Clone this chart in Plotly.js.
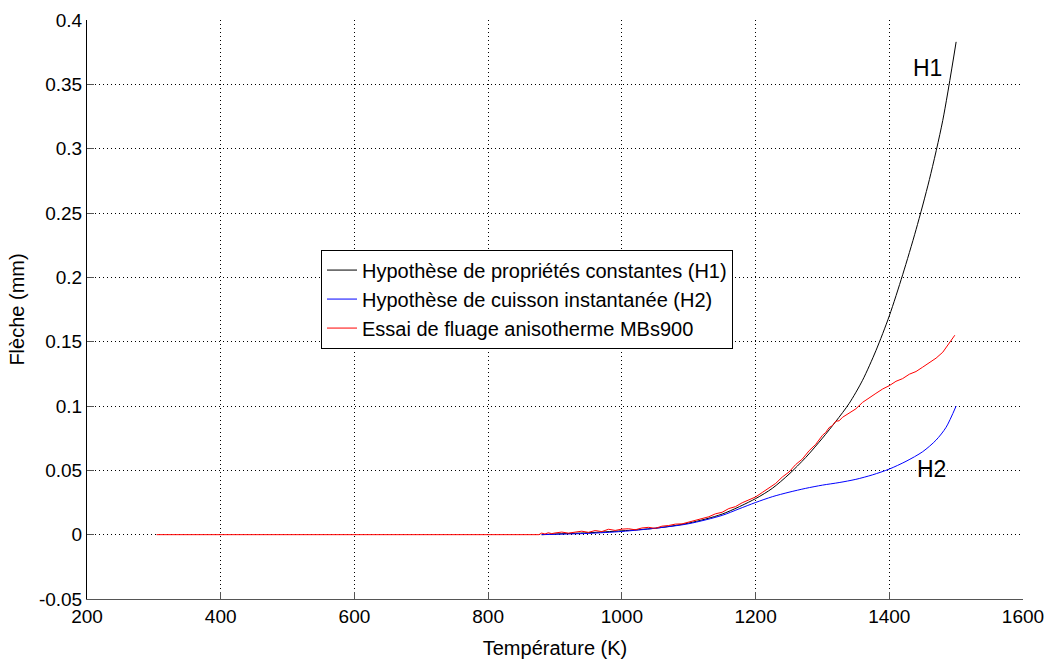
<!DOCTYPE html>
<html>
<head>
<meta charset="utf-8">
<script src="https://cdn.plot.ly/plotly-3.0.1.min.js"></script>
<style>html,body{margin:0;padding:0;background:#fff;}#chart{width:1049px;height:659px;}</style>
</head>
<body>
<div id="chart"></div>
<script>
// H1: constant properties hypothesis
const tempH1 = [880, 900, 950, 1000, 1050, 1100, 1150, 1200, 1225, 1250, 1275, 1300, 1320, 1340, 1360, 1380, 1400, 1420, 1440, 1460, 1480, 1500];
const flecheH1 = [0, 0.0005, 0.0015, 0.003, 0.005, 0.009, 0.016, 0.028, 0.036, 0.047, 0.060, 0.075, 0.088, 0.102, 0.120, 0.143, 0.170, 0.202, 0.237, 0.276, 0.322, 0.383];

// H2: instantaneous firing hypothesis
const tempH2 = [880, 900, 950, 1000, 1050, 1100, 1150, 1175, 1200, 1225, 1250, 1275, 1300, 1325, 1350, 1375, 1400, 1425, 1450, 1470, 1485, 1500];
const flecheH2 = [0, 0.0003, 0.001, 0.0025, 0.005, 0.0085, 0.015, 0.02, 0.025, 0.0295, 0.033, 0.036, 0.0385, 0.0405, 0.043, 0.0465, 0.051, 0.057, 0.0645, 0.0735, 0.0835, 0.1];

// Experiment: anisothermal creep test MBs900
const tempExp = [304, 876, 880, 885, 890, 895, 900, 910, 920, 930, 940, 950, 960, 970, 980, 990, 1000, 1010, 1020, 1030, 1040, 1050,
  1060, 1070, 1080, 1090, 1100, 1110, 1120, 1130, 1140, 1150, 1160, 1170, 1180, 1190, 1200, 1210, 1220, 1230, 1240, 1250,
  1260, 1270, 1280, 1290, 1300, 1305, 1310, 1315, 1320, 1325, 1330, 1340, 1350, 1360, 1370, 1380, 1390, 1400, 1410, 1420, 1430, 1440, 1450,
  1460, 1470, 1480, 1490, 1498];
const flecheExp = [0, 0, 0.0012, 0.0005, 0.0015, 0.0008, 0.0013, 0.002, 0.0012, 0.0022, 0.0027, 0.0018, 0.0032, 0.0024, 0.0042, 0.0033, 0.0043, 0.0046, 0.0038, 0.0052, 0.0057, 0.0049,
  0.0066, 0.0071, 0.0082, 0.0084, 0.0097, 0.011, 0.0127, 0.0139, 0.0162, 0.0174, 0.0203, 0.0218, 0.0248, 0.0268, 0.0293, 0.0328, 0.0362, 0.0398, 0.0448, 0.0487,
  0.0545, 0.0588, 0.0652, 0.0702, 0.0772, 0.0795, 0.0832, 0.0848, 0.0882, 0.0885, 0.0912, 0.0942, 0.0978, 0.1028, 0.1066, 0.1098, 0.1132, 0.1158, 0.1192, 0.1213, 0.1247, 0.1268, 0.1302,
  0.1334, 0.1372, 0.1418, 0.1488, 0.155];

const seriesNames = ["Hypothèse de propriétés constantes (H1)", "Hypothèse de cuisson instantanée (H2)", "Essai de fluage anisotherme MBs900"];

const xTickVals = [200, 400, 600, 800, 1000, 1200, 1400, 1600];
const xTickText = ["200", "400", "600", "800", "1000", "1200", "1400", "1600"];
const yTickVals = [-0.05, 0, 0.05, 0.1, 0.15, 0.2, 0.25, 0.3, 0.35, 0.4];
const yTickText = ["-0.05", "0", "0.05", "0.1", "0.15", "0.2", "0.25", "0.3", "0.35", "0.4"];

const labelH1 = {text: "H1", x: 1457, y: 0.363};
const labelH2 = {text: "H2", x: 1463, y: 0.051};

const FONT = "Liberation Sans, Arial, Helvetica, sans-serif";

const traces = [
  {x: tempH1, y: flecheH1, name: seriesNames[0], mode: "lines", line: {color: "#000000", width: 1, shape: "spline", smoothing: 0.8}},
  {x: tempH2, y: flecheH2, name: seriesNames[1], mode: "lines", line: {color: "#0000ff", width: 1, shape: "spline", smoothing: 0.8}},
  {x: tempExp, y: flecheExp, name: seriesNames[2], mode: "lines", line: {color: "#ff0000", width: 1}}
];

const gridDash = "1px,3px";

const layout = {
  width: 1049, height: 659,
  paper_bgcolor: "#ffffff", plot_bgcolor: "#ffffff",
  margin: {l: 87, r: 26, t: 20, b: 60, pad: 0},
  font: {family: FONT, size: 19, color: "#000000"},
  showlegend: true,
  legend: {
    x: 0.25, y: 0.6035, xanchor: "left", yanchor: "top",
    bgcolor: "#ffffff", bordercolor: "#000000", borderwidth: 1,
    font: {family: FONT, size: 20, color: "#000000"},
    tracegroupgap: 0
  },
  xaxis: {
    range: [200, 1600], tickmode: "array", tickvals: xTickVals, ticktext: xTickText,
    showgrid: true, gridcolor: "#000000", griddash: gridDash, gridwidth: 1,
    zeroline: false, showline: true, linecolor: "#555555", linewidth: 1,
    ticks: "inside", ticklen: 7, tickcolor: "#555555",
    tickfont: {family: FONT, size: 19, color: "#000000"},
    title: {text: "Température (K)", font: {family: FONT, size: 20, color: "#000000"}, standoff: 16},
    automargin: false
  },
  yaxis: {
    range: [-0.05, 0.4], tickmode: "array", tickvals: yTickVals, ticktext: yTickText,
    showgrid: true, gridcolor: "#000000", griddash: gridDash, gridwidth: 1,
    zeroline: false, showline: true, linecolor: "#000000", linewidth: 1,
    ticks: "inside", ticklen: 7, tickcolor: "#555555",
    tickfont: {family: FONT, size: 19, color: "#000000"},
    title: {text: "Flèche (mm)", font: {family: FONT, size: 20, color: "#000000"}, standoff: 8},
    automargin: false
  },
  annotations: [
    {x: labelH1.x, y: labelH1.y, xref: "x", yref: "y", text: labelH1.text, showarrow: false, font: {family: FONT, size: 23, color: "#000000"}},
    {x: labelH2.x, y: labelH2.y, xref: "x", yref: "y", text: labelH2.text, showarrow: false, font: {family: FONT, size: 23, color: "#000000"}}
  ]
};

Plotly.newPlot("chart", traces, layout, {staticPlot: true, displayModeBar: false});
</script>
</body>
</html>
